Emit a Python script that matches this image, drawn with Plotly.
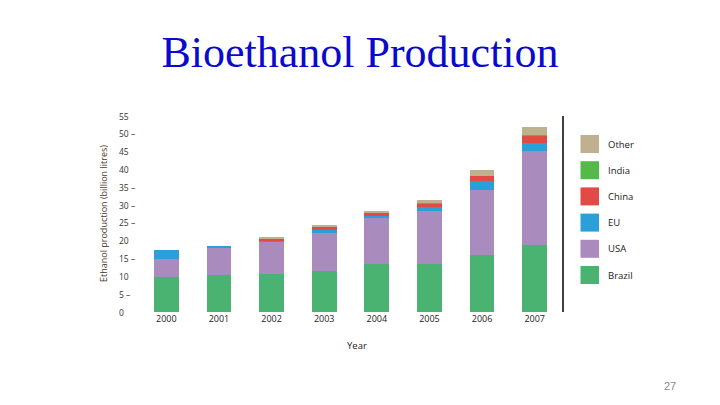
import plotly.graph_objects as go

years = ["2000", "2001", "2002", "2003", "2004", "2005", "2006", "2007"]
brazil = [9.9, 10.4, 10.7, 11.5, 13.5, 13.5, 16.0, 18.9]
usa = [4.9, 7.8, 9.1, 10.8, 13.0, 14.8, 18.2, 26.2]
eu = [2.5, 0.3, 0.4, 0.8, 0.5, 1.2, 2.7, 2.4]
china = [0.0, 0.0, 0.3, 0.8, 0.9, 0.9, 1.3, 1.9]
india = [0.0, 0.0, 0.0, 0.0, 0.0, 0.1, 0.1, 0.2]
other = [0.0, 0.0, 0.3, 0.5, 0.5, 0.8, 1.5, 2.3]

series_names = ["Brazil", "USA", "EU", "China", "India", "Other"]
series_values = [brazil, usa, eu, china, india, other]
series_colors = ["#4BB371", "#A98BBE", "#2A9FD8", "#E24A45", "#55B949", "#BFB08F"]

y_ticks = [0, 5, 10, 15, 20, 25, 30, 35, 40, 45, 50, 55]
y_tick_labels = ["0", "5 \u2013", "10", "15 \u2013", "20", "25 \u2013", "30 \u2013",
                 "35 \u2013", "40", "45", "50 \u2013", "55"]

OFF = 8  # page body margin
W, H = 720 - OFF, 405 - OFF
# screen-pixel plot area
SL, SR, ST, SB = 140, 561, 116, 312
L, R, T, B = SL - OFF, SR - OFF, ST - OFF, SB - OFF

fig = go.Figure()
for name, vals, col in zip(series_names, series_values, series_colors):
    fig.add_trace(go.Bar(x=years, y=vals, name=name, marker_color=col,
                         marker_line_width=0, showlegend=False))

def px_x(px):
    return (px - SL) / (SR - SL)

def px_y(py):
    return (SB - py) / (SB - ST)

annotations = []
shapes = []
for v, t in zip(y_ticks, y_tick_labels):
    annotations.append(dict(x=px_x(117), xref="paper", y=v, yref="y", text=t,
                            xanchor="left", yanchor="middle", showarrow=False,
                            font=dict(family="Open Sans", size=8.5, color="#333")))
leg_top = 135
for i, (name, col) in enumerate(zip(series_names[::-1], series_colors[::-1])):
    y0 = leg_top + i * 26.2
    shapes.append(dict(type="rect", xref="paper", yref="paper",
                       x0=px_x(580.5), x1=px_x(599), y0=px_y(y0 + 18), y1=px_y(y0),
                       fillcolor=col, line_width=0))
    annotations.append(dict(x=px_x(606), xref="paper", y=px_y(y0 + 9), yref="paper",
                            text=name, xanchor="left", yanchor="middle", showarrow=False,
                            font=dict(family="Open Sans", size=9.5, color="#222")))
shapes.append(dict(type="line", xref="paper", yref="y", x0=px_x(563), x1=px_x(563),
                   y0=0, y1=55, line=dict(color="black", width=1.5)))
annotations.append(dict(x=px_x(103), xref="paper", y=27.5, yref="y",
                        text="Ethanol production (billion litres)", textangle=-90,
                        showarrow=False, xanchor="center", yanchor="middle",
                        font=dict(family="Open Sans", size=9, color="#4a3a2a")))
annotations.append(dict(x=px_x(357), xref="paper", y=px_y(345), yref="paper",
                        text="Year", showarrow=False, xanchor="center", yanchor="middle",
                        font=dict(family="Open Sans", size=9.5, color="#222")))
annotations.append(dict(x=px_x(670), xref="paper", y=px_y(386), yref="paper",
                        text="27", showarrow=False, xanchor="center", yanchor="middle",
                        font=dict(family="Liberation Sans", size=11, color="#888")))

fig.update_layout(
    width=W, height=H, autosize=False,
    margin=dict(l=L, r=W - R, t=T, b=H - B, pad=0),
    paper_bgcolor="white", plot_bgcolor="white",
    barmode="stack", bargap=0.53,
    title=dict(text="Bioethanol Production", x=px_x(360), xref="paper", xanchor="center",
               y=1 - (52 - OFF) / H, yref="container", yanchor="middle",
               font=dict(family="Liberation Serif", size=44, color="#0A0ACC")),
    xaxis=dict(type="category", range=[-0.5, 7.5], showgrid=False, zeroline=False,
               showline=False, ticks="", tickfont=dict(family="Open Sans", size=9, color="#222")),
    yaxis=dict(range=[0, 55], showgrid=False, zeroline=False, showline=False,
               showticklabels=False, ticks=""),
    annotations=annotations, shapes=shapes,
)

fig.write_html("out.html")
